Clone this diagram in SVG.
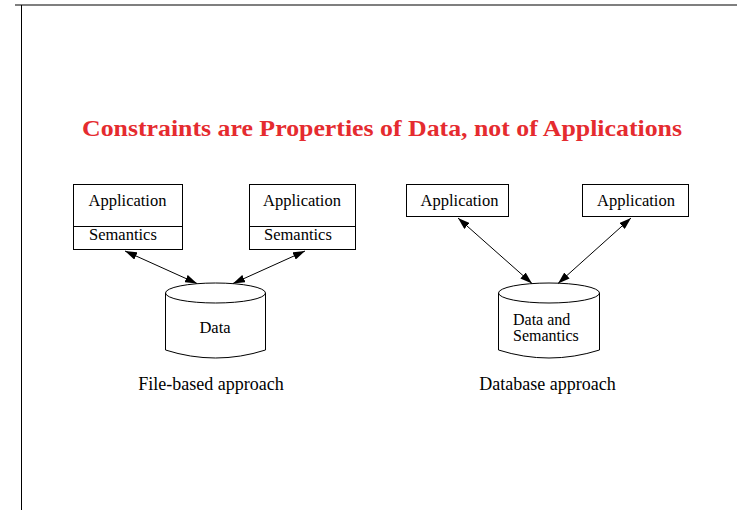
<svg xmlns="http://www.w3.org/2000/svg" width="737" height="510" viewBox="0 0 737 510">
<defs>
<marker id="ah" viewBox="0 0 12 8" refX="12" refY="4" markerWidth="12" markerHeight="8" markerUnits="userSpaceOnUse" orient="auto-start-reverse">
<path d="M0,0 L12,4 L0,8 z" fill="#000"/>
</marker>
</defs>
<style>
.box{fill:#fff;stroke:#000;stroke-width:1}
.t{font-family:"Liberation Serif","Times New Roman",serif;font-size:16.5px;fill:#000}
.lbl{font-family:"Liberation Serif","Times New Roman",serif;font-size:18px;fill:#000}
.title{font-family:"Liberation Serif","Times New Roman",serif;font-size:24px;font-weight:bold;fill:#e52b2f}
.c{fill:none;stroke:#000;stroke-width:1;marker-start:url(#ah);marker-end:url(#ah)}
</style>
<rect width="737" height="510" fill="#fff"/>
<g id="frame">
<line x1="15" y1="5" x2="737" y2="5" stroke="#555" stroke-width="1.5"/>
<line x1="21.5" y1="5" x2="21.5" y2="510" stroke="#000" stroke-width="1"/>
</g>
<text class="title" x="82" y="136" textLength="600" lengthAdjust="spacingAndGlyphs">Constraints are Properties of Data, not of Applications</text>
<g id="fb-app1">
<rect class="box" x="73.5" y="184.5" width="109" height="65"/>
<line x1="73.5" y1="226.5" x2="182.5" y2="226.5" stroke="#000"/>
<text class="t" x="127.5" y="206" text-anchor="middle">Application</text>
<text class="t" x="89" y="239.5">Semantics</text>
</g>
<g id="fb-app2">
<rect class="box" x="249.5" y="184.5" width="106" height="65"/>
<line x1="249.5" y1="226.5" x2="355.5" y2="226.5" stroke="#000"/>
<text class="t" x="302" y="206" text-anchor="middle">Application</text>
<text class="t" x="264" y="239.5">Semantics</text>
</g>
<g id="fb-data">
<path d="M165.5,293 A50,10 0 0 1 265.5,293 A50,10 0 0 1 165.5,293 Z" fill="#fff" stroke="#000"/>
<path d="M165.5,293 L165.5,350 Q215.5,366 265.5,350 L265.5,293" fill="none" stroke="#000"/>
<text class="t" x="215" y="333" text-anchor="middle">Data</text>
</g>
<g id="db-app1">
<rect class="box" x="406.5" y="184.5" width="102" height="32"/>
<text class="t" x="459.5" y="206" text-anchor="middle">Application</text>
</g>
<g id="db-app2">
<rect class="box" x="582.5" y="184.5" width="106" height="32"/>
<text class="t" x="636" y="206" text-anchor="middle">Application</text>
</g>
<g id="db-data">
<path d="M498.5,293 A50.5,10 0 0 1 599.5,293 A50.5,10 0 0 1 498.5,293 Z" fill="#fff" stroke="#000"/>
<path d="M498.5,293 L498.5,350 Q549,366 599.5,350 L599.5,293" fill="none" stroke="#000"/>
<text class="t" x="513" y="324.5" style="font-size:16px">Data and</text>
<text class="t" x="513" y="341" style="font-size:16px">Semantics</text>
</g>
<g id="connectors">
<line class="c" x1="125" y1="251" x2="197" y2="283.5"/>
<line class="c" x1="305" y1="251" x2="233" y2="283.5"/>
<line class="c" x1="458" y1="218" x2="532" y2="283.5"/>
<line class="c" x1="631" y1="218" x2="558" y2="283.5"/>
</g>
<text class="lbl" x="211" y="390" text-anchor="middle">File-based approach</text>
<text class="lbl" x="547.5" y="390" text-anchor="middle">Database approach</text>
</svg>
